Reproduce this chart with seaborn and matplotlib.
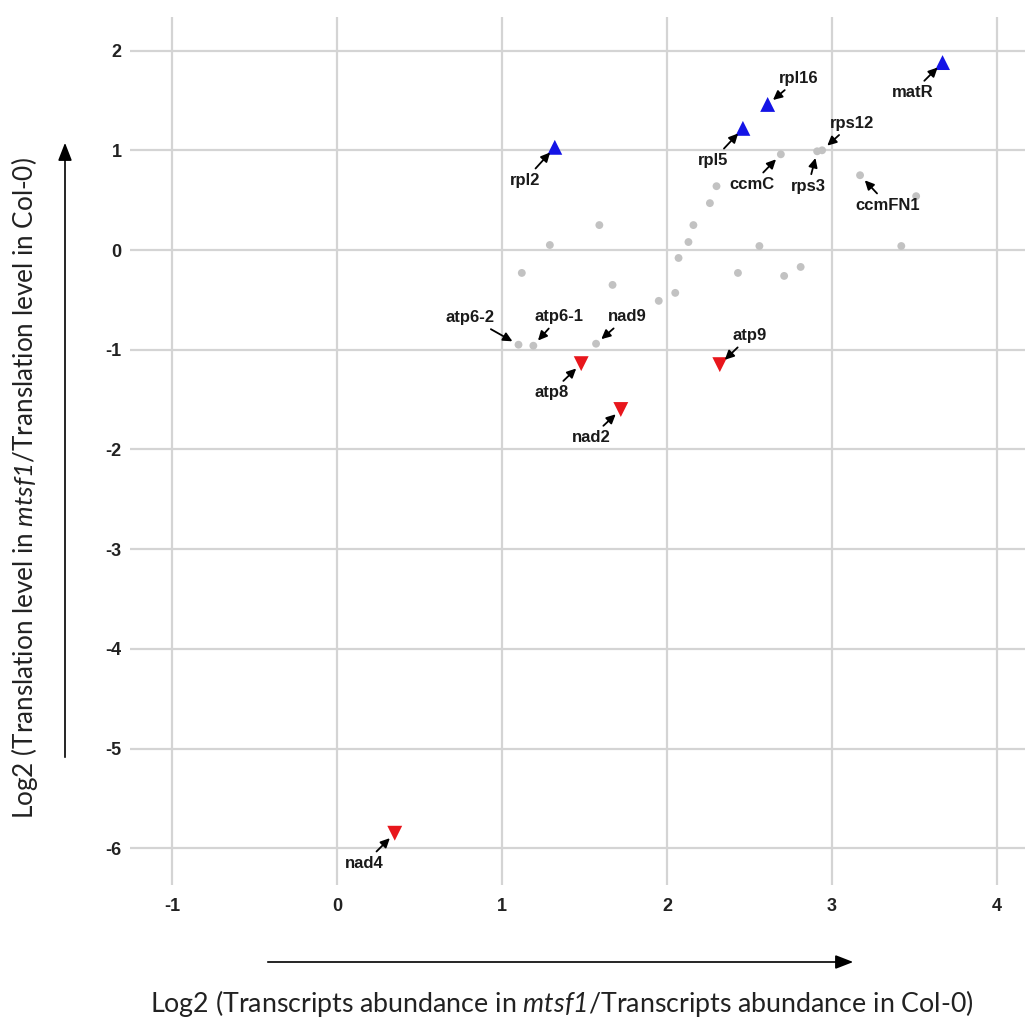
import numpy as np
import pandas as pd
import matplotlib
matplotlib.use("Agg")
import matplotlib.pyplot as plt
import seaborn as sns

# --- data (log2 ratios) ---
up_genes = ["rpl2", "rpl5", "rpl16", "matR"]
up_x = [1.32, 2.46, 2.61, 3.67]
up_y = [1.03, 1.22, 1.46, 1.88]

down_genes = ["atp8", "nad2", "atp9", "nad4"]
down_x = [1.48, 1.72, 2.32, 0.35]
down_y = [-1.14, -1.60, -1.15, -5.85]

gray_genes = ["ccmC", "rps3", "rps12", "ccmFN1", "atp6-2", "atp6-1", "nad9"]
gray_x = [2.69, 2.91, 2.94, 3.17, 1.10, 1.19, 1.57]
gray_y = [0.96, 0.99, 1.00, 0.75, -0.95, -0.96, -0.94]

other_x = [3.51, 2.30, 2.26, 2.16, 2.13, 2.07, 1.59, 1.29, 2.56, 3.42,
           1.12, 2.43, 2.71, 2.81, 1.67, 2.05, 1.95]
other_y = [0.54, 0.64, 0.47, 0.25, 0.08, -0.08, 0.25, 0.05, 0.04, 0.04,
           -0.23, -0.23, -0.26, -0.17, -0.35, -0.43, -0.51]

# label offsets in pixels (dx, dy) relative to the point
label_offsets = {
    "rpl2": (-30, -33), "rpl5": (-30, -32), "rpl16": (31, 26), "matR": (-30, -30),
    "rps12": (30, 27), "ccmC": (-29, -30), "rps3": (-9, -35), "ccmFN1": (28, -30),
    "atp6-2": (-48, 27), "atp6-1": (26, 29), "nad9": (31, 27),
    "atp8": (-30, -29), "nad2": (-30, -28), "atp9": (30, 29), "nad4": (-30, -30),
}

df = pd.concat([
    pd.DataFrame({"gene": up_genes, "x": up_x, "y": up_y, "group": "up"}),
    pd.DataFrame({"gene": down_genes, "x": down_x, "y": down_y, "group": "down"}),
    pd.DataFrame({"gene": gray_genes, "x": gray_x, "y": gray_y, "group": "none"}),
    pd.DataFrame({"gene": "", "x": other_x, "y": other_y, "group": "none"}),
], ignore_index=True)

sns.set_style("whitegrid")
plt.rcParams["font.family"] = ["Liberation Sans", "DejaVu Sans"]
# italic gene name (mtsf1) inside the axis titles, digits included
plt.rcParams["mathtext.fontset"] = "custom"
plt.rcParams["mathtext.rm"] = "Lato:italic"
plt.rcParams["mathtext.it"] = "Lato:italic"

fig = plt.figure(figsize=(10.25, 10.21), dpi=100)
ax = fig.add_axes([130 / 1025, (1021 - 885) / 1021, (1025 - 130) / 1025, (885 - 17) / 1021])

sns.scatterplot(data=df, x="x", y="y", hue="group", style="group", size="group",
                palette={"up": "#1414e6", "down": "#e8161c", "none": "#c2c2c2"},
                markers={"up": "^", "down": "v", "none": "o"},
                sizes={"up": 115, "down": 115, "none": 32},
                linewidth=0, legend=False, zorder=3, ax=ax)

for _, r in df[df["gene"] != ""].iterrows():
    dx, dy = label_offsets[r["gene"]]
    ax.annotate(r["gene"], xy=(r["x"], r["y"]), xytext=(dx, dy), textcoords="offset pixels",
                ha="center", va="center", fontsize=12, fontweight="bold", color="#1a1a1a",
                arrowprops=dict(arrowstyle="-|>,head_length=0.45,head_width=0.22",
                                color="black", lw=1.3, shrinkA=1, shrinkB=5))

ax.set_xlim((130 - 337) / 165, (1025 - 337) / 165)
ax.set_ylim((250 - 885) / 99.7, (250 - 17) / 99.7)
ax.set_xticks(np.arange(-1, 5))
ax.set_yticks(np.arange(-6, 3))
ax.set_xticklabels([str(v) for v in range(-1, 5)])
ax.set_yticklabels([str(v) for v in range(-6, 3)])
ax.tick_params(length=0, labelsize=13, colors="#222222")
ax.tick_params(axis="x", pad=9)
ax.tick_params(axis="y", pad=6)
for lab in ax.get_xticklabels() + ax.get_yticklabels():
    lab.set_fontweight("bold")
ax.grid(True, color="#d4d4d4", lw=1.6)
for s in ax.spines.values():
    s.set_visible(False)
ax.set_xlabel("")
ax.set_ylabel("")

# axis titles and direction arrows
fig.text(562 / 1025, 1 - 1003 / 1021,
         r"Log2 (Transcripts abundance in $\mathrm{mtsf1}$/Transcripts abundance in Col-0)",
         ha="center", va="center", fontsize=19.3, family="Lato", color="#222222")
fig.text(25 / 1025, 1 - 488 / 1021,
         r"Log2 (Translation level in $\mathrm{mtsf1}$/Translation level in Col-0)",
         ha="center", va="center", rotation=90, fontsize=18.8, family="Lato", color="#222222")
fig.patches.append(matplotlib.patches.FancyArrowPatch(
    (265 / 1025, 1 - 962 / 1021), (856 / 1025, 1 - 962 / 1021), transform=fig.transFigure,
    arrowstyle="-|>,head_length=0.9,head_width=0.35", color="black", lw=1.2, mutation_scale=12))
fig.patches.append(matplotlib.patches.FancyArrowPatch(
    (65 / 1025, 1 - 760 / 1021), (65 / 1025, 1 - 140 / 1021), transform=fig.transFigure,
    arrowstyle="-|>,head_length=0.9,head_width=0.35", color="black", lw=1.2, mutation_scale=12))

fig.savefig("out.png", dpi=100, facecolor="white")
